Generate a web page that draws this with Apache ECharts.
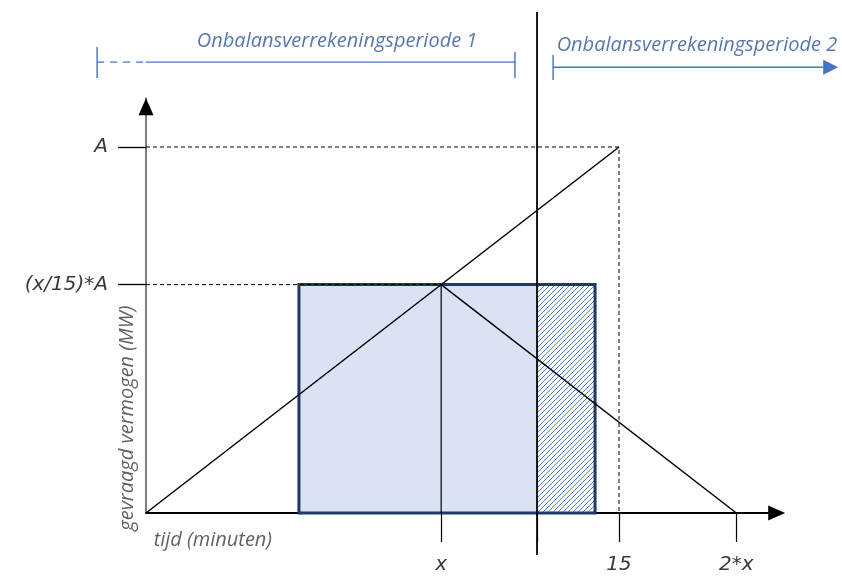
<!DOCTYPE html>
<html>
<head>
<meta charset="utf-8">
<script src="https://cdn.jsdelivr.net/npm/echarts@6/dist/echarts.min.js"></script>
<style>html,body{margin:0;padding:0;background:#fff}#c{width:842px;height:576px}</style>
</head>
<body>
<div id="c"></div>
<script>
// ---- data (time in minutes, power in units where A = 15) ----
const xPeak = 9.36;          // "x"
const A = 15;                // power level A (at t = 15)
const periodBoundary = 12.4; // end of onbalansverrekeningsperiode 1
const rectStart = 4.85;
const rectEnd = 14.24;
const xMax = 20;
const yMax = 17;

const rampUp = [[0, 0], [15, A]];
const rampDown = [[xPeak, xPeak], [2 * xPeak, 0]];
const dashA = [[0, A], [15, A], [15, 0]];
const dashPeak = [[0, xPeak], [xPeak, xPeak]];
const peakDrop = [[xPeak, xPeak], [xPeak, 0]];
const boundaryLine = [[periodBoundary, -1.72], [periodBoundary, 20.53]];

const xTickValues = [xPeak, periodBoundary, 15, 2 * xPeak];
const xLabelValues = [xPeak, 15, 2 * xPeak];
const xLabelTexts = ['x', '15', '2*x'];
const yTickValues = [xPeak, A];
const yLabelTexts = ['(x/15)*A', 'A'];

// rects: [start, end, height, kind]  kind 0 = filled, 1 = hatched, 2 = outline
const rects = [
  [rectStart, periodBoundary, xPeak, 0],
  [periodBoundary, rectEnd, xPeak, 1],
  [rectStart, rectEnd, xPeak, 2]
];

// period annotations
const period1Dash = [[-1.55, 18.48], [0, 18.48]];
const period1Solid = [[0, 18.48], [11.7, 18.48]];
const period1TickL = [[-1.55, 19.1], [-1.55, 17.83]];
const period1TickR = [[11.7, 18.89], [11.7, 17.83]];
const period2Line = [[12.91, 18.27], [21.95, 18.27]];
const period2Tick = [[12.91, 18.77], [12.91, 17.75]];
const yArrowTip = [[0, yMax]];

const texts = [
  {pos: [6.06, 19.34], text: 'Onbalansverrekeningsperiode 1', color: '#2f5597', size: 20, rot: 0},
  {pos: [17.47, 19.18], text: 'Onbalansverrekeningsperiode 2', color: '#2f5597', size: 20, rot: 0},
  {pos: [2.12, -1.11], text: 'tijd (minuten)', color: '#3a3a3a', size: 20, rot: 0},
  {pos: [-0.6, 3.89], text: 'gevraagd vermogen (MW)', color: '#3a3a3a', size: 20, rot: 90}
];

// hatch pattern
const pc = document.createElement('canvas');
pc.width = 5; pc.height = 5;
const g = pc.getContext('2d');
g.fillStyle = '#ffffff'; g.fillRect(0, 0, 5, 5);
g.strokeStyle = '#4f80d6'; g.lineWidth = 1;
g.beginPath();
g.moveTo(-1, 6); g.lineTo(6, -1);
g.moveTo(-4, 4); g.lineTo(4, -4);
g.moveTo(1, 9); g.lineTo(9, 1);
g.stroke();

const FONT = '"Open Sans"';
const AXFONT = '"DejaVu Sans"';
const chart = echarts.init(document.getElementById('c'), null, {renderer: 'canvas'});

function lineSeries(data, opts) {
  return Object.assign({
    type: 'line', data: data, symbol: 'none', clip: false, silent: true, z: 3,
    lineStyle: {color: '#000', width: 1.5}, animation: false
  }, opts || {});
}

// polyline drawn with a custom series (not clipped to the grid)
function pathSeries(points, style, arrowEnd, z) {
  return {
    type: 'custom', data: points, clip: false, silent: true, animation: false, z: z || 4,
    renderItem: function (params, api) {
      const i = params.dataIndex;
      if (i >= points.length - 1) return null;
      const p = api.coord([api.value(0), api.value(1)]);
      const q = api.coord(points[i + 1]);
      const children = [{type: 'line', shape: {x1: p[0], y1: p[1], x2: q[0], y2: q[1]}, style: style}];
      if (arrowEnd && i === points.length - 2) {
        const L = 15, W = 7.5;
        const dx = q[0] - p[0], dy = q[1] - p[1], len = Math.sqrt(dx * dx + dy * dy);
        const ux = dx / len, uy = dy / len;
        const bx = q[0] - ux * L, by = q[1] - uy * L;
        children[0].shape.x2 = bx; children[0].shape.y2 = by;
        children.push({type: 'polygon', shape: {points: [[q[0], q[1]], [bx - uy * W, by + ux * W], [bx + uy * W, by - ux * W]]},
          style: {fill: style.stroke}});
      }
      return {type: 'group', children: children};
    }
  };
}

const blueSolid = {stroke: '#4472c4', lineWidth: 1.4};
const blueDash = {stroke: '#4472c4', lineWidth: 1.4, lineDash: [7, 6]};

const series = [
  {
    type: 'custom', data: rects, z: 1, clip: false, animation: false, silent: true,
    renderItem: function (params, api) {
      const x0 = api.value(0), x1 = api.value(1), h = api.value(2), kind = api.value(3);
      const p0 = api.coord([x0, h]);
      const p1 = api.coord([x1, 0]);
      const shape = {x: p0[0], y: p0[1], width: p1[0] - p0[0], height: p1[1] - p0[1]};
      let style;
      if (kind === 0) style = {fill: '#dae3f3'};
      else if (kind === 1) style = {fill: {image: pc, repeat: 'repeat'}};
      else style = {fill: null, stroke: '#1f3864', lineWidth: 3};
      return {type: 'rect', shape: shape, style: style, z2: kind};
    }
  },
  lineSeries(rampUp),
  lineSeries(rampDown),
  lineSeries(dashA, {lineStyle: {color: '#000', width: 1, type: [4, 3]}}),
  lineSeries(dashPeak, {lineStyle: {color: '#000', width: 1, type: [4, 3]}}),
  lineSeries(peakDrop, {lineStyle: {color: '#000', width: 1.2}}),
  pathSeries(boundaryLine, {stroke: '#000', lineWidth: 1.8}, false, 5),
  pathSeries(period1Dash, blueDash),
  pathSeries(period1Solid, blueSolid),
  pathSeries(period1TickL, blueSolid),
  pathSeries(period1TickR, blueSolid),
  pathSeries(period2Tick, blueSolid),
  pathSeries(period2Line, blueSolid, true),
  {
    type: 'custom', data: yArrowTip, clip: false, silent: true, animation: false, z: 6,
    renderItem: function (params, api) {
      const p = api.coord([api.value(0), api.value(1)]);
      return {type: 'polygon', shape: {points: [[p[0], p[1]], [p[0] - 7.5, p[1] + 17], [p[0] + 7.5, p[1] + 17]]}, style: {fill: '#000'}};
    }
  },
  {
    type: 'scatter', clip: false, silent: true, animation: false, symbolSize: 0, z: 5,
    data: texts.map(t => ({
      value: t.pos,
      label: {
        show: true, position: 'inside', formatter: t.text, color: t.color,
        fontSize: t.size, fontStyle: 'italic', fontFamily: FONT, rotate: t.rot
      }
    }))
  }
];

chart.setOption({
  backgroundColor: '#fff',
  animation: false,
  grid: {left: 146, right: 65.3, top: 98.2, bottom: 63, containLabel: false},
  xAxis: {
    type: 'value', min: 0, max: xMax,
    splitLine: {show: false},
    axisLine: {show: true, lineStyle: {color: '#000', width: 2}, symbol: ['none', 'triangle'], symbolSize: [15, 17], onZero: false},
    axisTick: {show: true, customValues: xTickValues, length: 29, lineStyle: {color: '#000', width: 1.2}},
    axisLabel: {
      show: true, customValues: xLabelValues, margin: 42, color: '#3a3a3a', fontSize: 20,
      fontStyle: 'italic', fontFamily: AXFONT,
      formatter: function (v) {
        for (let i = 0; i < xLabelValues.length; i++) if (Math.abs(v - xLabelValues[i]) < 1e-6) return xLabelTexts[i];
        return '';
      }
    }
  },
  yAxis: {
    type: 'value', min: 0, max: yMax,
    splitLine: {show: false},
    axisLine: {show: true, lineStyle: {color: '#7f7f7f', width: 2}, symbol: ['none', 'none'], onZero: false},
    axisTick: {show: true, customValues: yTickValues, length: 28, lineStyle: {color: '#000', width: 1.3}},
    axisLabel: {
      show: true, customValues: yTickValues, margin: 38, color: '#3a3a3a', fontSize: 20,
      fontStyle: 'italic', fontFamily: AXFONT,
      formatter: function (v) {
        for (let i = 0; i < yTickValues.length; i++) if (Math.abs(v - yTickValues[i]) < 1e-6) return yLabelTexts[i];
        return '';
      }
    }
  },
  series: series
});
</script>
</body>
</html>
